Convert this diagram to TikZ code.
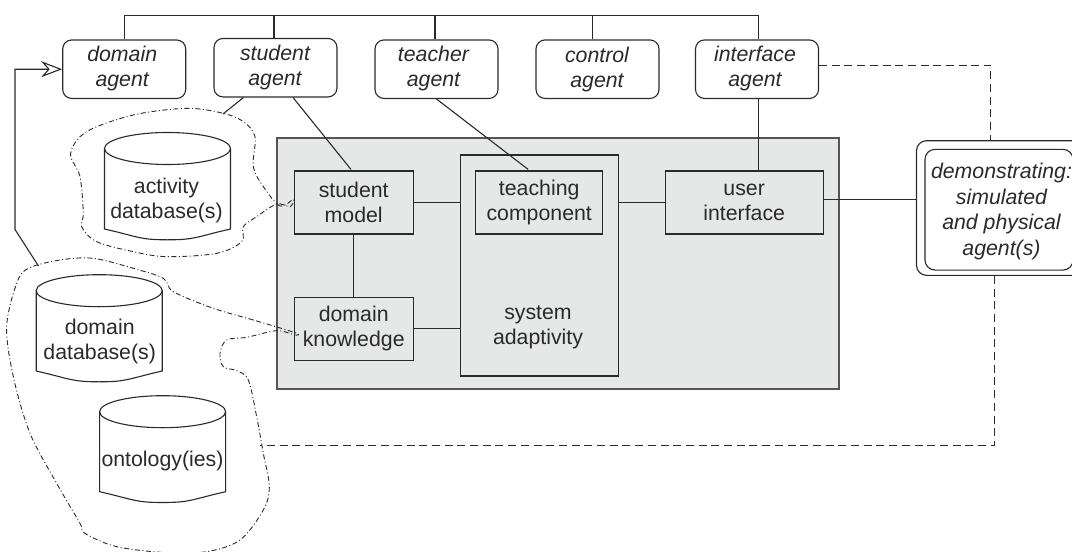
\documentclass[tikz,border=0pt]{standalone}
\usepackage{fontspec}
\setmainfont{Liberation Sans}
\usetikzlibrary{arrows.meta}
\definecolor{ink}{HTML}{2A2A2A}
\definecolor{panel}{HTML}{E6E7E7}
\tikzset{
  txt/.style={font=\fontsize{21.3}{25}\selectfont,text=ink,align=center,inner sep=0pt},
  agentbox/.style={draw=ink,line width=1.1pt,rounded corners=9pt,minimum width=123pt,minimum height=58.5pt,fill=white,inner sep=0pt},
  agenttxt/.style={txt,font=\fontsize{21.3}{25}\selectfont\itshape},
  compbox/.style={txt,draw=ink,line width=1.1pt,minimum height=63pt,fill=panel},
  wire/.style={draw=ink,line width=1.1pt},
  dashwire/.style={draw=ink,line width=1pt,dash pattern=on 8pt off 4.7pt},
  dbline/.style={draw=ink,line width=1.1pt},
  blob/.style={draw=ink,line width=0.9pt,dash pattern=on 5pt off 2.5pt on 1pt off 2.5pt},
}
\newcommand{\dbshape}[3]{% left x, side top y, side bottom y
  \draw[dbline] (#1+63,#2) ellipse [x radius=63pt,y radius=16pt];
  \draw[dbline] (#1,#2) -- (#1,#3) .. controls +(35,8) and +(-28,0) .. ++(63,10.8) .. controls +(28,0) and +(-35,8) .. ++(63,-10.8) -- (#1+126,#2);
}
\begin{document}
\begin{tikzpicture}[x=1pt,y=-1pt]
\clip (0,0) rectangle (1072,552);
\fill[white] (0,0) rectangle (1072,552);

% panel
\node[draw=ink!80,line width=1.8pt,fill=panel,minimum width=562pt,minimum height=251pt,inner sep=0pt] (panel) at (558,263.5) {};

% agents
\node[agentbox] (domainA) at (124.2,69.2) {};
\node[agenttxt] (domainT) at (122.2,68.5) {domain\\agent};
\node[agentbox] (studentA) at (275.5,67.7) {};
\node[agenttxt] (studentT) at (275,67) {student\\agent};
\node[agentbox] (teacherA) at (436.5,69.2) {};
\node[agenttxt] (teacherT) at (433.5,68) {teacher\\agent};
\node[agentbox] (controlA) at (597.5,69.2) {};
\node[agenttxt] (controlT) at (597,69) {control\\agent};
\node[agentbox] (ifaceA) at (757,69.2) {};
\node[agenttxt] (ifaceT) at (755,68) {interface\\agent};

% components
\node[draw=ink,line width=1.1pt,fill=panel,minimum width=158.3pt,minimum height=221pt,inner sep=0pt] (adapt) at (539.2,265.5) {};
\node[txt] (adaptT) at (538,327.5) {system\\adaptivity};
\node[compbox,minimum width=119pt] (smodel) at (353.7,202.5) {student\\model};
\node[compbox,minimum width=119pt] (dknow) at (353.7,328.7) {domain\\knowledge};
\node[compbox,minimum width=127pt] (teach) at (539.2,202.5) {teaching\\component};
\node[compbox,minimum width=158.3pt] (user) at (744.2,202.5) {user\\interface};

% demonstrating agent
\node[draw=ink,line width=1.1pt,rounded corners=10pt,minimum width=180pt,minimum height=134.6pt,inner sep=0pt] (demoO) at (1006.5,208) {};
\node[draw=ink,line width=1.1pt,rounded corners=10pt,minimum width=148pt,minimum height=120.7pt,inner sep=0pt] (demoI) at (999,209.7) {};
\node[txt,font=\fontsize{21.3}{25.5}\selectfont\itshape] (demoT) at (1001.5,211.5) {demonstrating:\\simulated\\and physical\\agent(s)};

% databases
\dbshape{104.5}{148.5}{229}
\node[txt] (actDB) at (166.5,200.5) {activity\\database(s)};
\dbshape{36.2}{290.7}{371}
\node[txt] (domDB) at (99.7,341.5) {domain\\database(s)};
\dbshape{99.6}{411.7}{491.7}
\node[txt] (ontDB) at (162.5,461) {ontology(ies)};

% blobs
\begin{scope}[x=1pt/3,y=-1pt/3]
\draw[blob] plot[smooth cycle,tension=0.55] coordinates {
 (880,598)(840,618)(790,560)(760,500)(765,410)(730,365)(670,340)(560,325)(400,345)(260,395)(212,460)(240,530)(250,640)(245,680)(290,725)(400,755)(500,770)(650,760)(725,725)(730,680)(770,650)(830,612)(870,620)};
\end{scope}
\begin{scope}[shift={(0,260)},x=1pt/3,y=-1pt/3]
\draw[blob] plot[smooth cycle,tension=0.55] coordinates {
 (885,218)(760,180)(640,145)(520,95)(490,55)(400,25)(280,-5)(180,0)(85,25)(50,70)(20,200)(40,350)(90,520)(170,670)(240,790)(255,820)(350,860)(500,878)(620,875)(720,840)(790,750)(808,680)(790,580)(770,470)(745,360)(710,332)(670,320)(660,280)(680,240)(740,232)(830,212)(885,225)};
\end{scope}

% named free ends
\coordinate (bus) at (0,15.5);
\coordinate (blobA) at (223,114);
\coordinate (blobB) at (38.5,266);
\coordinate (leftRun) at (15,229.5);

% connectors
\draw[wire] ([xshift=1.7pt]ifaceA.north) -- ([xshift=1.7pt]ifaceA.north |- bus) -- (bus -| domainA.north) -- (domainA.north);
\draw[wire] ([xshift=-1.5pt]studentA.north) -- ([xshift=-1.5pt]studentA.north |- bus);
\draw[wire] ([xshift=-1.5pt]teacherA.north) -- ([xshift=-1.5pt]teacherA.north |- bus);
\draw[wire] ([xshift=-4.8pt]controlA.north) -- ([xshift=-4.8pt]controlA.north |- bus);
\draw[wire] ([xshift=-32pt]studentA.south) -- (blobA);
\draw[wire] ([xshift=17.5pt]studentA.south) -- ([yshift=1pt,xshift=-2.7pt]smodel.north);
\draw[wire] (teacherA.south) -- ([xshift=-11pt,yshift=1pt]teach.north);
\draw[wire] ([xshift=1.7pt]ifaceA.south) -- ([xshift=1.7pt]ifaceA.south |- user.north);
\draw[wire] (smodel.south) -- (smodel.south |- dknow.north);
\draw[wire] (smodel.east) -- (smodel.east -| adapt.west);
\draw[wire] (dknow.east) -- (dknow.east -| adapt.west);
\draw[wire] (adapt.east |- user.west) -- (user.west);
\draw[wire] ([yshift=3pt]user.east) -- ([yshift=3pt]user.east -| demoO.west);
\draw[wire,-{Stealth[open,fill=white,length=21pt,width=16pt,inset=7pt]}] (blobB) -- (leftRun) -- (leftRun |- domainA.west) -- (domainA.west);
\coordinate (dashA) at (990.7,65);
\coordinate (dashB) at (994,445.7);
\coordinate (dashC) at (260.3,445.7);
\draw[dashwire] (ifaceA.east |- dashA) -- (dashA) -- (dashA |- demoO.north);
\draw[dashwire] (dashB |- demoO.south) -- (dashB) -- (dashC);
\end{tikzpicture}
\end{document}
